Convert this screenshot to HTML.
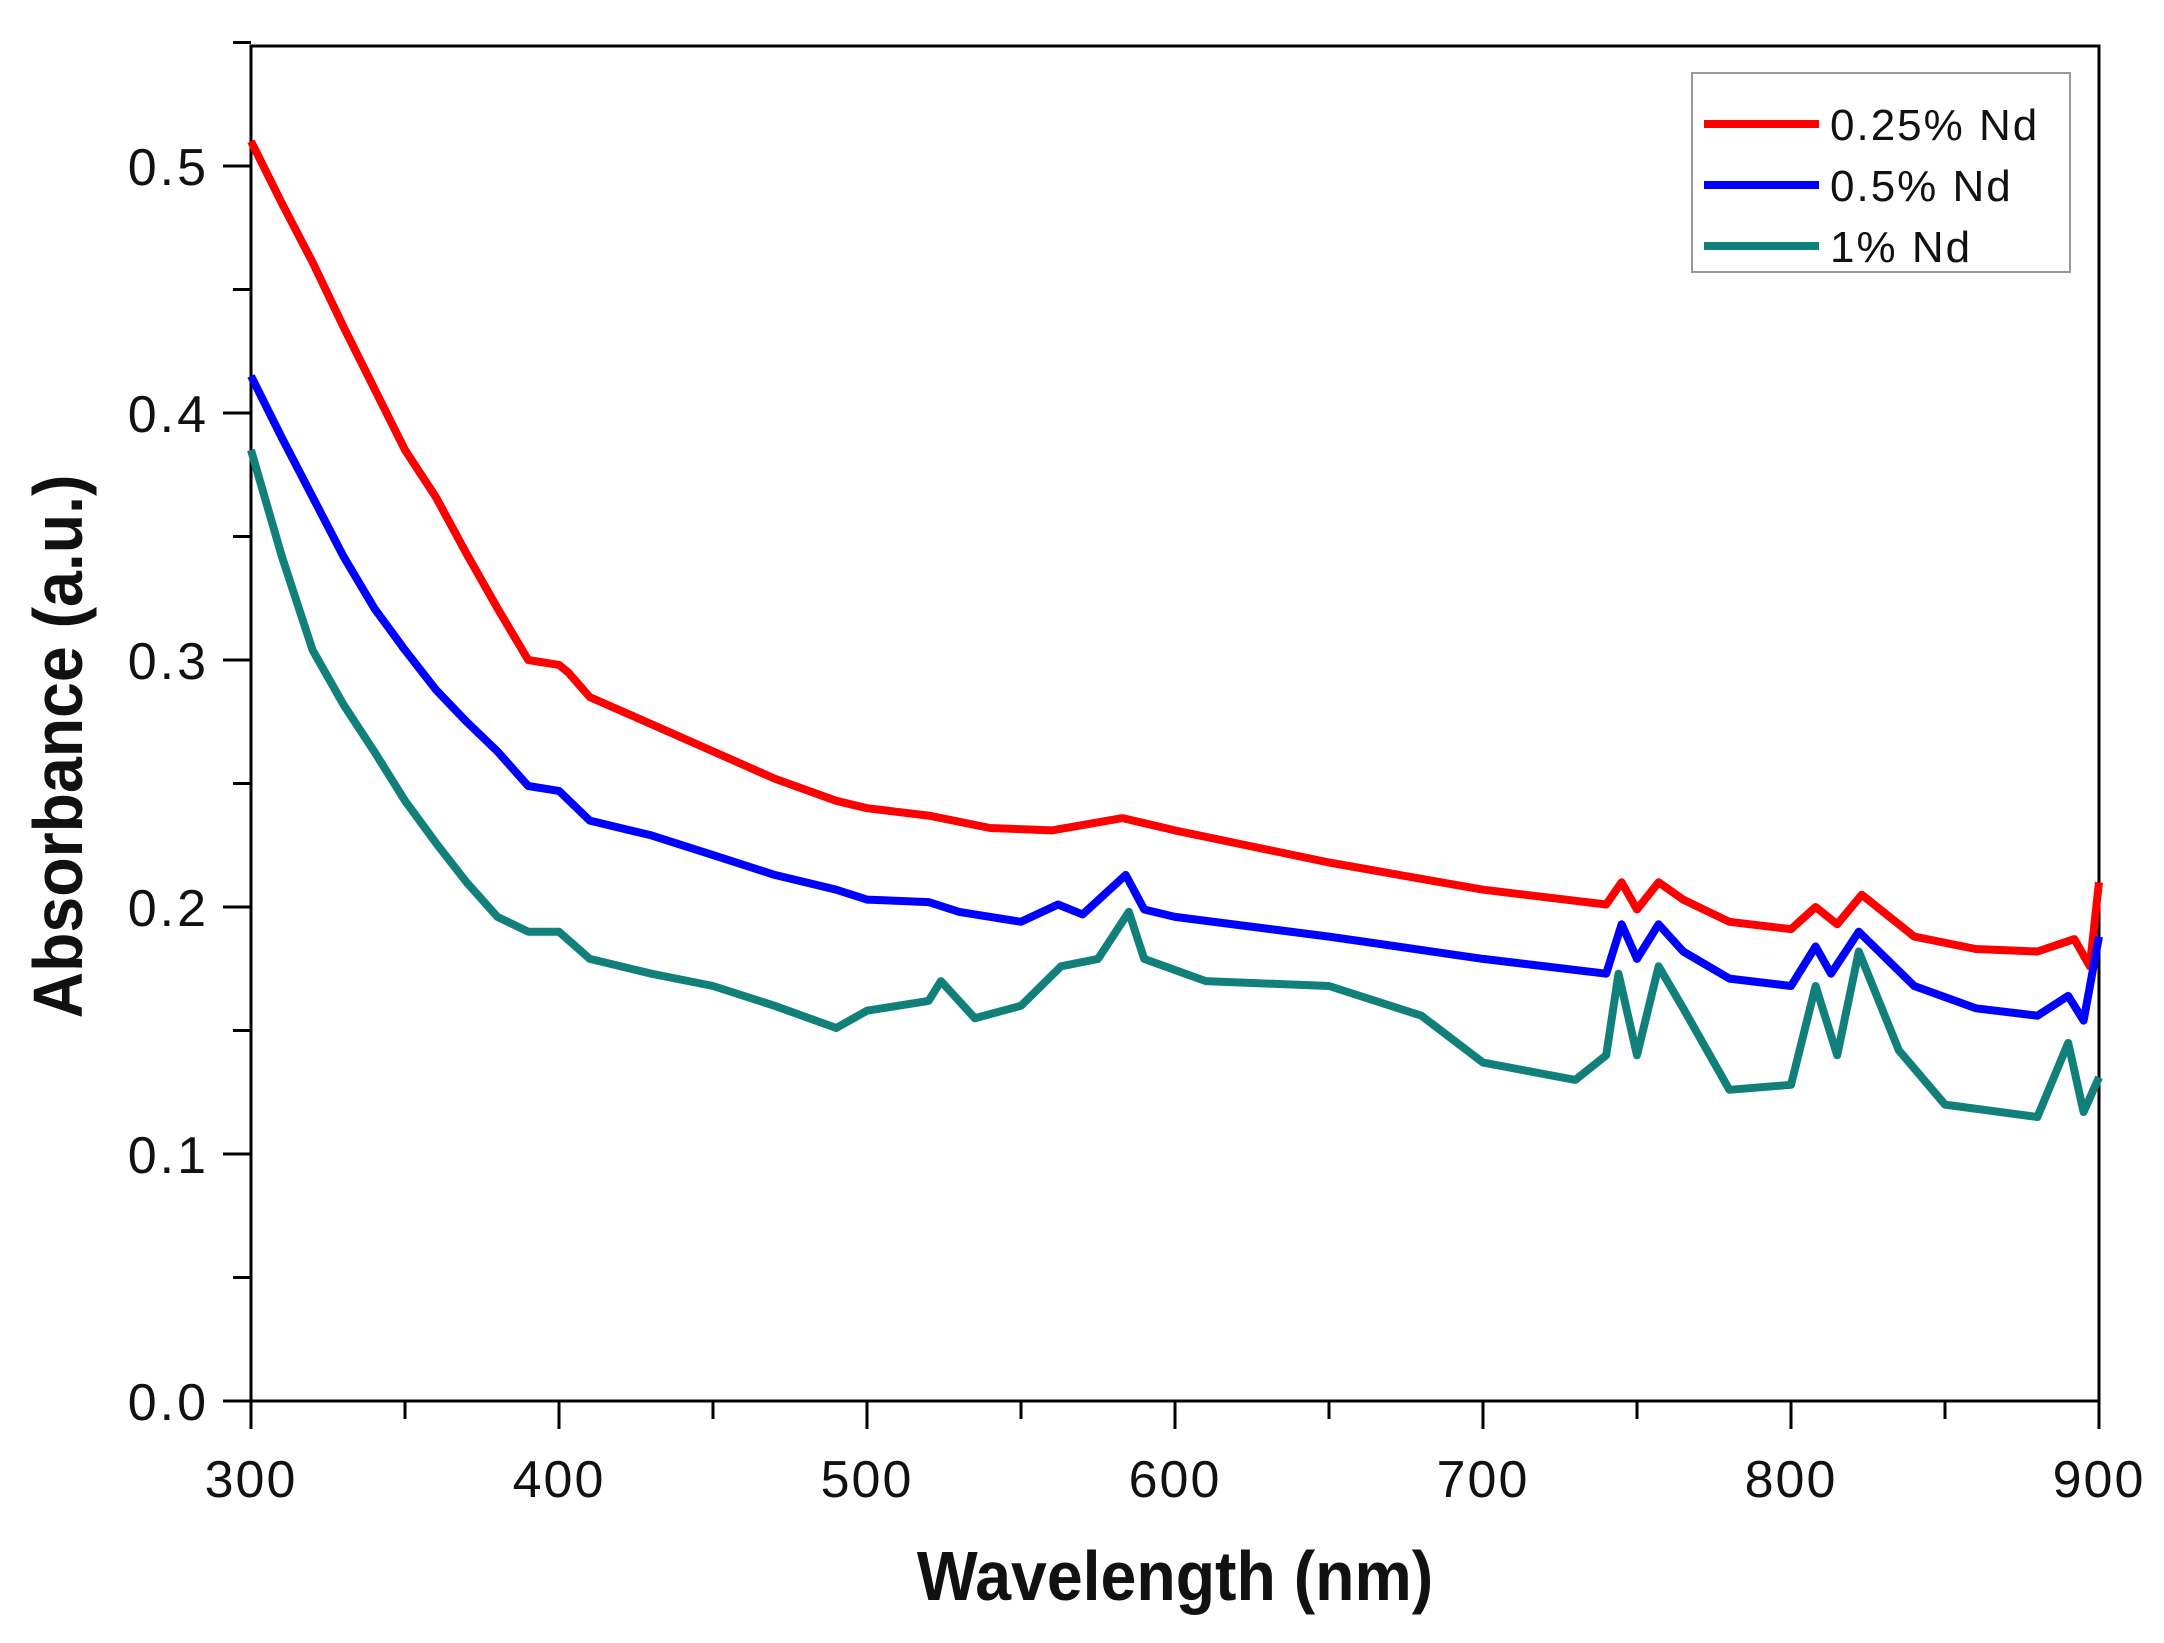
<!DOCTYPE html>
<html><head><meta charset="utf-8"><style>
html,body{margin:0;padding:0;background:#fff;}
svg{display:block;}
text{font-family:"Liberation Sans",sans-serif;}
</style></head><body>
<svg id="chart" width="2164" height="1643" viewBox="0 0 2164 1643">
<g id="axes"></g>
<g id="series"></g>
<g id="legend"></g>
</svg>
<script>
const xTicks=[300,400,500,600,700,800,900];
const yTicks=[0.0,0.1,0.2,0.3,0.4,0.5];
const seriesNames=["0.25% Nd","0.5% Nd","1% Nd"];
const seriesColors=["#ff0000","#0000ff","#12807a"];
const redX=[300,310,320,330,340,350,360,370,380,390,400,403,410,430,450,470,490,500,520,540,560,583,600,650,700,740,745,750,757,765,780,800,808,815,823,840,860,880,892,897,900];
const redY=[0.51,0.485,0.461,0.435,0.41,0.385,0.366,0.343,0.321,0.300,0.298,0.295,0.285,0.274,0.263,0.252,0.243,0.240,0.237,0.232,0.231,0.236,0.231,0.218,0.207,0.201,0.21,0.199,0.21,0.203,0.194,0.191,0.200,0.193,0.205,0.188,0.183,0.182,0.187,0.176,0.21];
const blueX=[300,310,320,330,340,350,360,370,380,390,400,410,430,450,470,490,500,520,530,550,562,570,584,590,600,650,700,740,745,750,757,765,780,800,808,813,822,840,860,880,890,895,900];
const blueY=[0.415,0.39,0.366,0.342,0.321,0.304,0.288,0.275,0.263,0.249,0.247,0.235,0.229,0.221,0.213,0.207,0.203,0.202,0.198,0.194,0.201,0.197,0.213,0.199,0.196,0.188,0.179,0.173,0.193,0.179,0.193,0.182,0.171,0.168,0.184,0.173,0.19,0.168,0.159,0.156,0.164,0.154,0.188];
const tealX=[300,310,320,330,340,350,360,370,380,390,400,410,430,450,470,490,500,520,524,535,550,563,575,585,590,610,650,680,700,730,740,744,750,757,765,780,800,808,815,822,835,850,880,890,895,900];
const tealY=[0.385,0.342,0.304,0.282,0.263,0.243,0.226,0.21,0.196,0.190,0.190,0.179,0.173,0.168,0.160,0.151,0.158,0.162,0.17,0.155,0.160,0.176,0.179,0.198,0.179,0.170,0.168,0.156,0.137,0.130,0.14,0.173,0.140,0.176,0.159,0.126,0.128,0.168,0.14,0.182,0.142,0.120,0.115,0.145,0.117,0.131];

const L=251,R=2099,T=46,B=1401;
const X=v=>L+(v-300)/600*(R-L);
const Y=v=>B-v/0.1*247;
const NS="http://www.w3.org/2000/svg";
function mk(tag,attrs,parent){const e=document.createElementNS(NS,tag);for(const k in attrs)e.setAttribute(k,attrs[k]);parent.appendChild(e);return e;}
const ax=document.getElementById('axes');
let f=mk('rect',{x:L,y:T,width:R-L,height:B-T,fill:'none',stroke:'#000','stroke-width':3},ax);


for(let v=300;v<=900;v+=50){
  const major=v%100===0;
  const t=mk('line',{x1:X(v),x2:X(v),y1:B,y2:B+(major?28:18),stroke:'#000','stroke-width':3},ax);
  
  
}
xTicks.forEach(v=>{
  const t=mk('text',{x:X(v),y:B+96,'font-size':52,'letter-spacing':2,'text-anchor':'middle',fill:'#111'},ax);
  t.textContent=v;
  
  
});
for(let i=0;i<=11;i++){
  const v=i*0.05;
  const major=i%2===0;
  const t=mk('line',{x1:L-(major?28:18),x2:L,y1:Y(v),y2:Y(v),stroke:'#000','stroke-width':3},ax);
  
  
}
yTicks.forEach(v=>{
  const t=mk('text',{x:L-42,y:Y(v)+19,'font-size':52,'letter-spacing':3,'text-anchor':'end',fill:'#111'},ax);
  t.textContent=v.toFixed(1);
  
  
});
let xt=mk('text',{x:0,y:0,'font-size':70,'font-weight':'bold','text-anchor':'middle',fill:'#111',transform:`translate(${(L+R)/2},1600) scale(0.92,1)`},ax);
xt.textContent='Wavelength (nm)';


let yt=mk('text',{x:0,y:0,'font-size':70,'font-weight':'bold','text-anchor':'middle',fill:'#111',transform:`translate(82,${(T+B)/2+23}) rotate(-90) scale(0.92,1)`},ax);
yt.textContent='Absorbance (a.u.)';



const sg=document.getElementById('series');
const data=[[redX,redY],[blueX,blueY],[tealX,tealY]];
const names=['series-0-25-nd','series-0-5-nd','series-1-nd'];
data.forEach((d,i)=>{
  const pts=d[0].map((x,j)=>X(x).toFixed(1)+','+Y(d[1][j]).toFixed(1)).join(' ');
  const p=mk('polyline',{points:pts,fill:'none',stroke:seriesColors[i],'stroke-width':8,'stroke-linejoin':'round'},sg);
  
  
});
const lg=document.getElementById('legend');
let lb=mk('rect',{x:1692,y:73,width:378,height:199,fill:'#fff',stroke:'#999','stroke-width':2},lg);


seriesNames.forEach((n,i)=>{
  const y=124+i*61;
  const l=mk('line',{x1:1704,x2:1819,y1:y,y2:y,stroke:seriesColors[i],'stroke-width':8},lg);
  
  
  const t=mk('text',{x:1830,y:y+16,'font-size':44,'letter-spacing':2,fill:'#111'},lg);
  t.textContent=n;
  
  
});
</script>
</body></html>
